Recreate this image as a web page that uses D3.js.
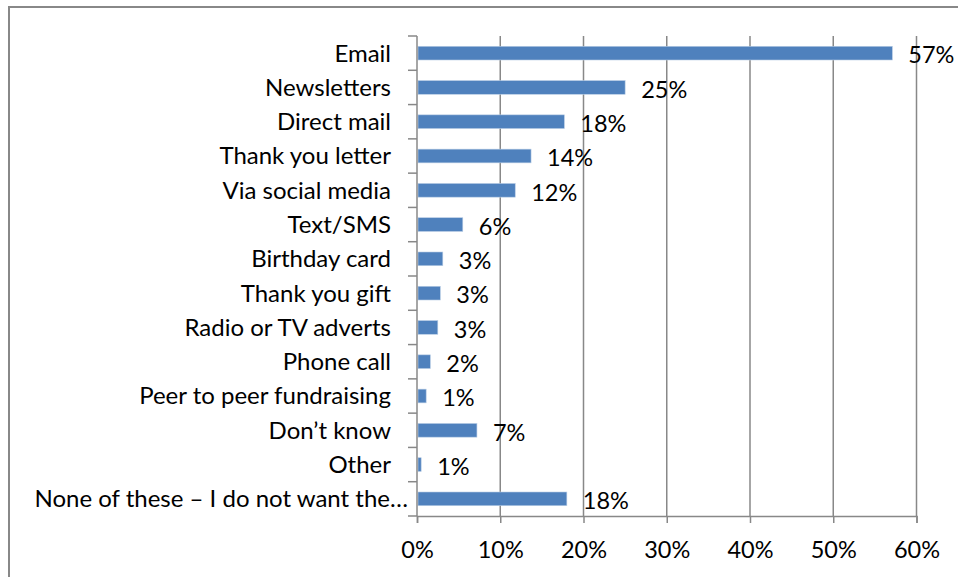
<!DOCTYPE html>
<html>
<head>
<meta charset="utf-8">
<script src="https://cdn.jsdelivr.net/npm/d3@7"></script>
<style>
  html, body { margin: 0; padding: 0; background: #fff; }
  svg { display: block; }
  text { font-family: Lato, "Open Sans", sans-serif; fill: #000; }
</style>
</head>
<body>
<svg id="chart" width="958" height="577"></svg>
<script>
// Channels, top to bottom
const categories = [
  "Email", "Newsletters", "Direct mail", "Thank you letter", "Via social media",
  "Text/SMS", "Birthday card", "Thank you gift", "Radio or TV adverts", "Phone call",
  "Peer to peer fundraising", "Don\u2019t know", "Other",
  "None of these \u2013 I do not want the\u2026"
];
// Share of respondents (%)
const values = [57.1, 25.0, 17.7, 13.7, 11.8, 5.5, 3.1, 2.8, 2.5, 1.6, 1.1, 7.2, 0.5, 18.0];
const valueLabels = ["57%", "25%", "18%", "14%", "12%", "6%", "3%", "3%", "3%", "2%", "1%", "7%", "1%", "18%"];
const xTicks = [0, 10, 20, 30, 40, 50, 60];

const svg = d3.select("#chart");
const grid = "#888888";
const barColor = "#4F81BD";
const catFont = 24;
const valFont = 23.5;

// outer frame
svg.append("rect")
  .attr("x", 9).attr("y", 7).attr("width", 960).attr("height", 590)
  .attr("fill", "none").attr("stroke", grid).attr("stroke-width", 2);

const plot = { left: 417, right: 916.5, top: 36, bottom: 516 };

const x = d3.scaleLinear().domain([0, 60]).range([plot.left, plot.right]);
const y = d3.scaleBand().domain(categories).range([plot.top, plot.bottom]).paddingInner(0.6).paddingOuter(0.3);
const yEdges = d3.scaleLinear().domain([0, categories.length]).range([plot.top, plot.bottom]);

// vertical gridlines
svg.append("g").selectAll("line").data(xTicks.slice(1)).join("line")
  .attr("x1", d => x(d)).attr("x2", d => x(d))
  .attr("y1", plot.top).attr("y2", plot.bottom)
  .attr("stroke", grid).attr("stroke-width", 1.5);

// bars
svg.append("g").selectAll("rect").data(categories).join("rect")
  .attr("x", x(0) + 1)
  .attr("y", d => y(d))
  .attr("width", (d, i) => x(values[i]) - x(0) - 1)
  .attr("height", y.bandwidth())
  .attr("fill", barColor)
  .attr("stroke", "#b9cde5").attr("stroke-width", 0.6);

// x axis
const xAxis = d3.axisBottom(x).tickValues(xTicks).tickFormat(d => d + "%").tickSize(7).tickPadding(18);
const gx = svg.append("g").attr("transform", `translate(0,${plot.bottom})`).call(xAxis);
gx.select(".domain").attr("stroke", grid).attr("stroke-width", 1.5);
gx.selectAll(".tick line").attr("stroke", grid).attr("stroke-width", 1.5);
gx.selectAll(".tick text").attr("font-size", valFont).attr("font-family", "Lato, 'Open Sans', sans-serif").attr("fill", "#000");

// y axis with ticks at band edges
svg.append("line")
  .attr("x1", plot.left).attr("x2", plot.left).attr("y1", plot.top).attr("y2", plot.bottom)
  .attr("stroke", grid).attr("stroke-width", 1.5);
svg.append("g").selectAll("line").data(d3.range(categories.length + 1)).join("line")
  .attr("x1", plot.left - 9).attr("x2", plot.left)
  .attr("y1", d => yEdges(d)).attr("y2", d => yEdges(d))
  .attr("stroke", grid).attr("stroke-width", 1.5);

// category labels; truncated ones run right up to the tick marks
svg.append("g").selectAll("text").data(categories).join("text")
  .attr("x", d => d.endsWith("\u2026") ? plot.left - 9 : 391)
  .attr("y", d => y(d) + y.bandwidth() / 2)
  .attr("dy", "0.35em")
  .attr("text-anchor", "end")
  .attr("font-size", catFont)
  .text(d => d);

// value labels
svg.append("g").selectAll("text").data(categories).join("text")
  .attr("x", (d, i) => x(values[i]) + 16)
  .attr("y", d => y(d) + y.bandwidth() / 2 + 2)
  .attr("dy", "0.35em")
  .attr("font-size", valFont)
  .text((d, i) => valueLabels[i]);
</script>
</body>
</html>
